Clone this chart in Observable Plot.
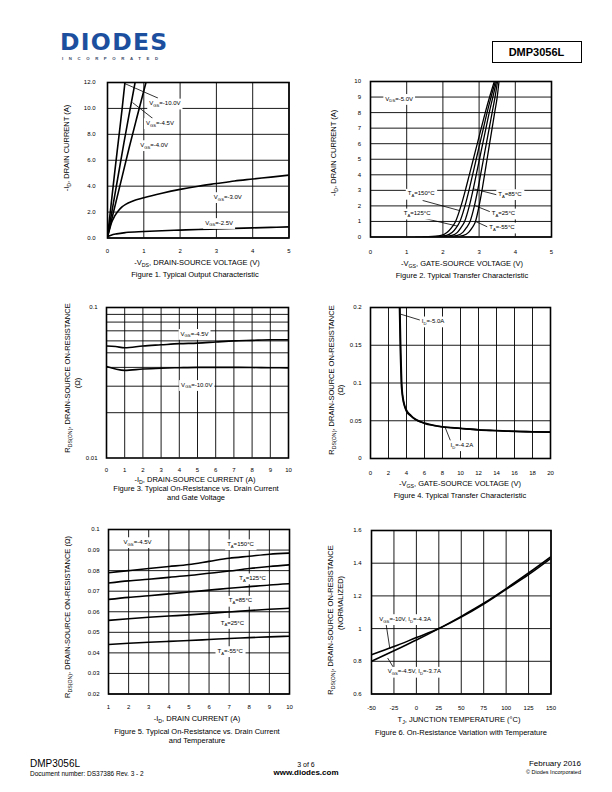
<!DOCTYPE html>
<html><head><meta charset="utf-8">
<script src="https://cdn.jsdelivr.net/npm/d3@7"></script>
<script src="https://cdn.jsdelivr.net/npm/@observablehq/plot@0.6"></script>
<style>
html,body{margin:0;padding:0;background:#fff;}
#page{position:relative;width:612px;height:792px;overflow:hidden;font-family:'Liberation Sans',Arial,sans-serif;color:#000;background:#fff;}
.t{position:absolute;white-space:nowrap;line-height:1;}
.sub{font-size:70%;position:relative;top:0.3em;}
.chart{position:absolute;}
</style></head><body><div id="page"></div>
<script>
// ---------- Figure 1: Typical Output Characteristic ----------
const fig1XTicks = [0, 1, 2, 3, 4, 5];
const fig1YTicks = [0, 2, 4, 6, 8, 10, 12];
const fig1Vgs100 = [[0,0.1],[0.1,2.6],[0.2,5.1],[0.3,7.5],[0.4,9.9],[0.48,12]];
const fig1Vgs45 = [[0,0.1],[0.15,2.5],[0.3,4.9],[0.45,7.3],[0.6,9.6],[0.76,12]];
const fig1Vgs40 = [[0,0.1],[0.2,2.4],[0.4,4.7],[0.6,7.0],[0.8,9.2],[1.06,12]];
const fig1Vgs30 = [[0,0.1],[0.05,0.6],[0.1,1.1],[0.2,1.7],[0.3,2.1],[0.4,2.4],[0.5,2.6],[0.7,2.85],[1,3.1],[1.5,3.45],[2,3.75],[2.5,4.0],[3,4.2],[3.5,4.4],[4,4.55],[4.5,4.7],[5,4.85]];
const fig1Vgs25 = [[0,0.1],[0.1,0.22],[0.25,0.32],[0.5,0.42],[1,0.5],[1.5,0.56],[2,0.61],[2.5,0.66],[3,0.7],[3.5,0.74],[4,0.78],[4.5,0.82],[5,0.86]];
const fig1Labels = [
  {x:1.15,y:10.4,t:"V_{GS}=-10.0V"},
  {x:1.06,y:8.89,t:"V_{GS}=-4.5V"},
  {x:0.9,y:7.19,t:"V_{GS}=-4.0V"},
  {x:2.93,y:3.18,t:"V_{GS}=-3.0V"},
  {x:2.69,y:1.18,t:"V_{GS}=-2.5V"}];
const fig1Arrows = [{x1:0.45,y1:11.95,x2:1.39,y2:10.8},{x1:0.69,y1:10.45,x2:1.25,y2:9.22}];

// ---------- Figure 2: Typical Transfer Characteristic ----------
const fig2XTicks = [0, 1, 2, 3, 4, 5];
const fig2YTicks = [0, 1, 2, 3, 4, 5, 6, 7, 8, 9, 10];
const fig2T150 = [[1.25,0],[1.6,0.02],[1.95,0.1],[2.12,0.3],[2.24,0.6],[2.35,1],[2.5,2],[2.62,3],[2.73,4],[2.84,5],[2.95,6],[3.06,7],[3.17,8],[3.29,9],[3.42,10]];
const fig2T125 = [[1.45,0],[1.8,0.02],[2.1,0.1],[2.26,0.3],[2.37,0.6],[2.47,1],[2.61,2],[2.72,3],[2.82,4],[2.92,5],[3.02,6],[3.12,7],[3.22,8],[3.33,9],[3.45,10]];
const fig2T85 = [[1.65,0],[1.98,0.02],[2.25,0.1],[2.4,0.3],[2.5,0.6],[2.6,1],[2.73,2],[2.83,3],[2.92,4],[3.01,5],[3.1,6],[3.19,7],[3.28,8],[3.38,9],[3.48,10]];
const fig2T25 = [[1.85,0],[2.15,0.02],[2.4,0.1],[2.55,0.3],[2.65,0.6],[2.75,1],[2.87,2],[2.96,3],[3.04,4],[3.12,5],[3.2,6],[3.28,7],[3.36,8],[3.44,9],[3.51,10]];
const fig2Tm55 = [[2.05,0],[2.35,0.02],[2.57,0.1],[2.71,0.3],[2.81,0.6],[2.9,1],[3.0,2],[3.08,3],[3.15,4],[3.22,5],[3.29,6],[3.36,7],[3.43,8],[3.5,9],[3.55,10]];
const fig2Labels = [
  {x:0.41,y:8.9,t:"V_{DS}=-5.0V"},
  {x:1.03,y:2.8,t:"T_{A}=150°C"},
  {x:0.92,y:1.53,t:"T_{A}=125°C"},
  {x:3.53,y:2.78,t:"T_{A}=85°C"},
  {x:3.35,y:1.53,t:"T_{A}=25°C"},
  {x:3.28,y:0.63,t:"T_{A}=-55°C"}];
const fig2Arrows = [
  {x1:1.44,y1:2.35,x2:2.46,y2:1.7},
  {x1:1.26,y1:1.32,x2:2.4,y2:0.7},
  {x1:3.56,y1:2.67,x2:2.84,y2:3.1},
  {x1:3.33,y1:1.6,x2:2.87,y2:2.03},
  {x1:3.25,y1:0.63,x2:2.9,y2:1.0}];

// ---------- Figure 3: On-Resistance vs Drain Current and Gate Voltage ----------
const fig3XTicks = [0,1,2,3,4,5,6,7,8,9,10];
const fig3YTicks = [0.01, 0.1];
const fig3YGrid = [0.02,0.03,0.04,0.05,0.06,0.07,0.08,0.09];
const fig3Vgs45 = [[0,0.0555],[0.5,0.055],[1,0.054],[2,0.0555],[3,0.0565],[4,0.0575],[5,0.058],[6,0.059],[7,0.06],[8,0.0605],[9,0.061],[10,0.061]];
const fig3Vgs100 = [[0,0.0405],[0.5,0.039],[1,0.0382],[2,0.039],[3,0.0395],[4,0.0398],[5,0.04],[6,0.04],[7,0.04],[8,0.0399],[9,0.0398],[10,0.0397]];
const fig3Labels = [{x:4.07,y:0.0671,t:"V_{GS}=-4.5V"},{x:4.1,y:0.0307,t:"V_{GS}=-10.0V"}];

// ---------- Figure 4: On-Resistance vs Gate-Source Voltage ----------
const fig4XTicks = [0,2,4,6,8,10,12,14,16,18,20];
const fig4YTicks = [0, 0.05, 0.1, 0.15, 0.2];
const fig4Id50 = [[3.27,0.2],[3.32,0.17],[3.37,0.14],[3.42,0.12],[3.47,0.1],[3.52,0.09],[3.62,0.08],[3.8,0.07],[4.0,0.064],[4.5,0.057],[5,0.052],[6,0.047],[7,0.044],[8,0.042],[10,0.04],[12,0.038],[14,0.037],[16,0.036],[18,0.0355],[20,0.035]];
const fig4Id42 = [[3.22,0.2],[3.27,0.17],[3.32,0.14],[3.37,0.12],[3.42,0.1],[3.48,0.09],[3.58,0.08],[3.76,0.07],[3.97,0.063],[4.5,0.056],[5,0.0515],[6,0.0465],[7,0.0437],[8,0.0418],[10,0.0398],[12,0.0379],[14,0.0368],[16,0.0359],[18,0.0353],[20,0.0349]];
const fig4Labels = [{x:5.7,y:0.182,t:"I_{D}=-5.0A"},{x:8.9,y:0.018,t:"I_{D}=-4.2A"}];
const fig4Arrows = [{x1:5.6,y1:0.183,x2:3.39,y2:0.191},{x1:8.97,y1:0.021,x2:8.3,y2:0.041}];

// ---------- Figure 5: On-Resistance vs Drain Current and Temperature ----------
const fig5XTicks = [1,2,3,4,5,6,7,8,9,10];
const fig5YTicks = [0.02,0.03,0.04,0.05,0.06,0.07,0.08,0.09,0.1];
const fig5T150 = [[1,0.079],[2,0.08],[3,0.081],[4,0.082],[5,0.083],[6,0.0845],[7,0.086],[8,0.087],[9,0.088],[10,0.0885]];
const fig5T125 = [[1,0.074],[2,0.075],[3,0.0758],[4,0.0767],[5,0.0776],[6,0.0787],[7,0.0798],[8,0.081],[9,0.082],[10,0.0828]];
const fig5T85 = [[1,0.066],[2,0.067],[3,0.0678],[4,0.0687],[5,0.0696],[6,0.0705],[7,0.0714],[8,0.0722],[9,0.073],[10,0.0736]];
const fig5T25 = [[1,0.0558],[2,0.0566],[3,0.0573],[4,0.0579],[5,0.0585],[6,0.0592],[7,0.0599],[8,0.0606],[9,0.0612],[10,0.0617]];
const fig5Tm55 = [[1,0.0441],[2,0.0447],[3,0.0452],[4,0.0456],[5,0.046],[6,0.0465],[7,0.047],[8,0.0474],[9,0.0478],[10,0.0481]];
const fig5Labels = [
  {x:1.75,y:0.094,t:"V_{GS}=-4.5V"},
  {x:6.9,y:0.093,t:"T_{A}=150°C"},
  {x:7.5,y:0.0764,t:"T_{A}=125°C"},
  {x:6.98,y:0.0655,t:"T_{A}=85°C"},
  {x:6.58,y:0.0547,t:"T_{A}=25°C"},
  {x:6.42,y:0.041,t:"T_{A}=-55°C"}];

// ---------- Figure 6: On-Resistance vs Temperature ----------
const fig6XTicks = [-50,-25,0,25,50,75,100,125,150];
const fig6YTicks = [0.6,0.8,1,1.2,1.4,1.6];
const fig6Vgs10 = [[-50,0.84],[-25,0.89],[0,0.945],[25,1.0],[50,1.07],[75,1.15],[100,1.24],[125,1.33],[150,1.43]];
const fig6Vgs45 = [[-50,0.8],[-25,0.865],[0,0.93],[25,1.0],[50,1.075],[75,1.155],[100,1.245],[125,1.34],[150,1.44]];
const fig6Labels = [{x:-41.3,y:1.06,t:"V_{GS}=-10V, I_{D}=-4.3A"},{x:-32,y:0.738,t:"V_{GS}=-4.5V, I_{D}=-3.7A"}];
const fig6Arrows = [{x1:-33.8,y1:1.03,x2:-29.5,y2:0.875},{x1:-24.6,y1:0.754,x2:-32,y2:0.82}];

const FONT = "'Liberation Sans', Arial, sans-serif";
const NS = "http://www.w3.org/2000/svg";
const page = document.getElementById("page");

function subHTML(s){
  return s.replace(/&/g,"&amp;").replace(/</g,"&lt;").replace(/_\{([^}]*)\}/g,'<span class="sub">$1</span>');
}
function txt(s, x, y, o = {}){
  const d = document.createElement("div");
  d.className = "t";
  d.innerHTML = subHTML(s);
  d.style.left = x + "px"; d.style.top = y + "px";
  d.style.fontSize = (o.size || 7.5) + "px";
  if (o.bold) d.style.fontWeight = "bold";
  if (o.color) d.style.color = o.color;
  if (o.family) d.style.fontFamily = o.family;
  if (o.ls) d.style.letterSpacing = o.ls + "px";
  const a = o.anchor || "middle";
  const tx = a === "middle" ? "-50%" : a === "end" ? "-100%" : "0";
  let tr = `translate(${tx},${o.topAligned ? "0" : "-50%"})`;
  if (o.rot) tr = "translate(-50%,-50%) rotate(-90deg)";
  d.style.transform = tr;
  page.appendChild(d);
  return d;
}

function subify(t){
  const s = t.textContent;
  if (!s.includes("_{")) return;
  const fs = parseFloat(getComputedStyle(t).fontSize) || 6;
  t.textContent = "";
  const parts = s.split(/(_\{[^}]*\})/);
  let shifted = false;
  for (const p of parts){
    if (!p) continue;
    const ts = document.createElementNS(NS, "tspan");
    if (p.startsWith("_{")){
      ts.textContent = p.slice(2, -1);
      ts.setAttribute("font-size", (fs*0.7).toFixed(2));
      ts.setAttribute("dy", (fs*0.3).toFixed(2));
      shifted = true;
    } else {
      ts.textContent = p;
      if (shifted){ ts.setAttribute("dy", (-fs*0.3).toFixed(2)); shifted = false; }
    }
    t.appendChild(ts);
  }
}

function chart(c){
  const f = c.frame, mL = 48, mR = 12, mT = 12, mB = 28;
  const W = f.R - f.L + mL + mR, H = f.B - f.T + mT + mB;
  const marks = [
    Plot.ruleX(c.xGrid, {stroke:"#000", strokeWidth:0.9}),
    Plot.ruleY(c.yGrid, {stroke:"#000", strokeWidth:0.9})
  ];
  for (const s of c.series)
    marks.push(Plot.line(s, {x:d=>d[0], y:d=>d[1], stroke:"#000", strokeWidth:c.lw || 1.6, curve:"monotone-x", clip:true}));
  if (c.arrows) marks.push(Plot.link(c.arrows, {x1:"x1", y1:"y1", x2:"x2", y2:"y2", stroke:"#000", strokeWidth:0.8}));
  if (c.labels) marks.push(Plot.text(c.labels, {x:"x", y:"y", text:"t", textAnchor:"start", fontSize:6, fill:"#000"}));
  marks.push(Plot.frame({stroke:"#000", strokeWidth:1.6}));
  const svg = Plot.plot({
    width: W, height: H, marginLeft: mL, marginRight: mR, marginTop: mT, marginBottom: mB,
    style: {fontFamily: FONT, fontSize: "6px", color: "#000", background: "transparent", overflow: "visible"},
    x: {type: c.xType || "linear", domain: c.xDomain, ticks: c.xTicks, tickFormat: c.xFmt || (d => String(d)), tickSize: 0, tickPadding: c.padX, label: null},
    y: {type: c.yType || "linear", domain: c.yDomain, ticks: c.yTicks, tickFormat: c.yFmt || (d => String(d)), tickSize: 0, tickPadding: c.padY, label: null},
    marks
  });
  const div = document.createElement("div");
  div.className = "chart";
  div.style.left = (f.L - mL) + "px"; div.style.top = (f.T - mT) + "px";
  div.style.width = W + "px"; div.style.height = H + "px";
  div.appendChild(svg);
  page.appendChild(div);
  svg.querySelectorAll('g[aria-label="text"] text').forEach(t => {
    subify(t);
    const bb = t.getBBox();
    const r = document.createElementNS(NS, "rect");
    r.setAttribute("x", bb.x - 2); r.setAttribute("y", bb.y - 1.5);
    r.setAttribute("width", bb.width + 4); r.setAttribute("height", bb.height + 3);
    r.setAttribute("fill", "#fff");
    const tr = t.getAttribute("transform");
    if (tr) r.setAttribute("transform", tr);
    t.parentNode.insertBefore(r, t);
  });
}

// Figure 1
chart({frame:{L:106.5,R:288,T:81.5,B:237}, xDomain:[0,5], yDomain:[0,12],
  xTicks:fig1XTicks, yTicks:fig1YTicks, xGrid:fig1XTicks, yGrid:fig1YTicks, yFmt:d=>d.toFixed(1),
  padX:11, padY:12, series:[fig1Vgs100,fig1Vgs45,fig1Vgs40,fig1Vgs30,fig1Vgs25], labels:fig1Labels, arrows:fig1Arrows});
// Figure 2
chart({frame:{L:369.5,R:550.5,T:81,B:236.5}, xDomain:[0,5], yDomain:[0,10],
  xTicks:fig2XTicks, yTicks:fig2YTicks, xGrid:fig2XTicks, yGrid:fig2YTicks,
  padX:13, padY:9.5, lw:1.3, series:[fig2T150,fig2T125,fig2T85,fig2T25,fig2Tm55], labels:fig2Labels, arrows:fig2Arrows});
// Figure 3
chart({frame:{L:106,R:288,T:307,B:457.5}, xDomain:[0,10], yDomain:[0.01,0.1], yType:"log",
  xTicks:fig3XTicks, yTicks:fig3YTicks, xGrid:fig3XTicks, yGrid:fig3YGrid,
  padX:10, padY:9, series:[fig3Vgs45,fig3Vgs100], labels:fig3Labels});
// Figure 4
chart({frame:{L:369.5,R:549.5,T:306.5,B:457.5}, xDomain:[0,20], yDomain:[0,0.2],
  xTicks:fig4XTicks, yTicks:fig4YTicks, xGrid:fig4XTicks, yGrid:fig4YTicks,
  padX:12, padY:9, series:[fig4Id50,fig4Id42], labels:fig4Labels, arrows:fig4Arrows});
// Figure 5
chart({frame:{L:107.5,R:288.5,T:529,B:693.5}, xDomain:[1,10], yDomain:[0.02,0.1],
  xTicks:fig5XTicks, yTicks:fig5YTicks, xGrid:fig5XTicks, yGrid:fig5YTicks,
  padX:11, padY:9, series:[fig5T150,fig5T125,fig5T85,fig5T25,fig5Tm55], labels:fig5Labels});
// Figure 6
chart({frame:{L:370.5,R:550,T:530,B:693.5}, xDomain:[-50,150], yDomain:[0.6,1.6],
  xTicks:fig6XTicks, yTicks:fig6YTicks, xGrid:fig6XTicks, yGrid:fig6YTicks,
  padX:12, padY:10, series:[fig6Vgs10,fig6Vgs45], labels:fig6Labels, arrows:fig6Arrows});

// ---------- page texts ----------
// Header (logo: caps from ~34 to ~51, baseline ~51)
txt("DIODES", 60, 31.2, {anchor:"start", topAligned:true, size:23.5, bold:true, color:"#1d4f9f", family:"'DejaVu Sans', sans-serif", ls:1.3});
txt("INCORPORATED", 62, 59.3, {anchor:"start", size:4.3, bold:true, color:"#3a4a6a", ls:5.6});
const box = document.createElement("div");
box.style.cssText = "position:absolute;left:492px;top:41px;width:88px;height:20px;border:1.2px solid #000;";
page.appendChild(box);
txt("DMP3056L", 536.5, 51.5, {size:11, bold:true});

// Figure 1 texts
txt("-V_{DS}, DRAIN-SOURCE VOLTAGE (V)", 197, 263);
txt("Figure 1. Typical Output Characteristic", 195, 275);
txt("-I_{D}, DRAIN CURRENT (A)", 67, 148, {rot:true});
// Figure 2 texts
txt("-V_{GS}, GATE-SOURCE VOLTAGE (V)", 462, 264);
txt("Figure 2. Typical Transfer Characteristic", 462, 276);
txt("-I_{D}, DRAIN CURRENT (A)", 334, 153, {rot:true});
// Figure 3 texts
txt("R_{DS(ON)}, DRAIN-SOURCE ON-RESISTANCE", 68, 378, {rot:true});
txt("(Ω)", 78, 383, {rot:true});
txt("-I_{D}, DRAIN-SOURCE CURRENT (A)", 195, 480);
txt("Figure 3. Typical On-Resistance vs. Drain Current", 196, 489);
txt("and Gate Voltage", 196, 497.5);
// Figure 4 texts
txt("R_{DS(ON)}, DRAIN-SOURCE ON-RESISTANCE", 332, 380, {rot:true});
txt("(Ω)", 341, 390, {rot:true});
txt("-V_{GS}, GATE-SOURCE VOLTAGE (V)", 460, 484);
txt("Figure 4. Typical Transfer Characteristic", 460, 496);
// Figure 5 texts
txt("R_{DS(ON)}, DRAIN-SOURCE ON-RESISTANCE (Ω)", 68, 617, {rot:true});
txt("-I_{D}, DRAIN CURRENT (A)", 197, 719);
txt("Figure 5. Typical On-Resistance vs. Drain Current", 197, 732);
txt("and Temperature", 197, 741);
// Figure 6 texts
txt("R_{DS(ON)}, DRAIN-SOURCE ON-RESISTANCE", 331, 620, {rot:true});
txt("(NORMALIZED)", 341, 603, {rot:true});
txt("T_{J}, JUNCTION TEMPERATURE (°C)", 459, 720);
txt("Figure 6. On-Resistance Variation with Temperature", 461, 733);

// Footer
txt("DMP3056L", 30, 764, {anchor:"start", size:10});
txt("Document number: DS37386  Rev. 3 - 2", 30, 773.5, {anchor:"start", size:6.5});
txt("3 of 6", 306, 763.5, {size:7});
txt("www.diodes.com", 306, 772.5, {size:8, bold:true});
txt("February 2016", 581, 764, {anchor:"end", size:8});
txt("© Diodes Incorporated", 581, 773, {anchor:"end", size:5.5});
</script></body></html>
